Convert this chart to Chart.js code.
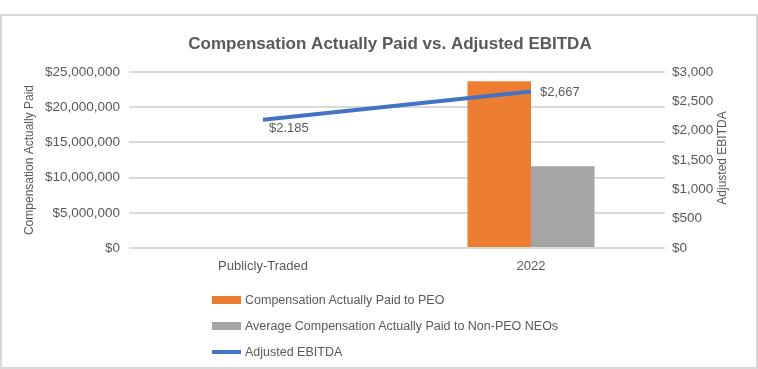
<!DOCTYPE html>
<html>
<head>
<meta charset="utf-8">
<script src="https://cdn.jsdelivr.net/npm/chart.js@4/dist/chart.umd.min.js"></script>
<style>
  html, body { margin: 0; padding: 0; background: #fff; }
  #wrap { position: relative; width: 758px; height: 369px; overflow: hidden; }
  #frame { position: absolute; left: 0; top: 14px; width: 754px; height: 351px; border: 2px solid #d9d9d9; }
  #chart { position: absolute; left: 0; top: 0; }
  #legend { position: absolute; left: 212px; top: 287px; font-family: "Liberation Sans", Arial, sans-serif; font-size: 12.5px; color: #595959; }
  #legend .item { height: 26px; display: flex; align-items: center; }
  #legend .sw { width: 29px; margin-right: 4px; }
</style>
</head>
<body>
<div id="wrap">
  <div id="frame"></div>
  <canvas id="chart" width="758" height="369"></canvas>
  <div id="legend"></div>
</div>
<script>
const categories = ['Publicly-Traded', '2022'];
const peoPaid = [null, 23700000];        // Compensation Actually Paid to PEO
const neoPaid = [null, 11600000];        // Average CAP to Non-PEO NEOs
const adjEbitda = [2185, 2667];          // Adjusted EBITDA
const ebitdaLabels = ['$2.185', '$2,667'];

const grey = '#595959';
const fontFam = '"Liberation Sans", Arial, sans-serif';

// etiquetas de la linea (desplazamiento respecto al punto)
const labelOffsets = [[6, 9], [9, 1]];

const lineLabels = {
  id: 'lineLabels',
  afterDatasetsDraw(chart) {
    const meta = chart.getDatasetMeta(2);
    const ctx = chart.ctx;
    ctx.save();
    ctx.font = '13px ' + fontFam;
    ctx.fillStyle = grey;
    ctx.textAlign = 'left';
    ctx.textBaseline = 'middle';
    meta.data.forEach((pt, i) => {
      ctx.fillText(ebitdaLabels[i], pt.x + labelOffsets[i][0], pt.y + labelOffsets[i][1]);
    });
    ctx.restore();
  }
};

// titulo del eje derecho, leido de abajo hacia arriba
const rightTitle = {
  id: 'rightTitle',
  afterDraw(chart) {
    const ctx = chart.ctx;
    const area = chart.chartArea;
    ctx.save();
    ctx.translate(723, (area.top + area.bottom) / 2 - 2);
    ctx.rotate(-Math.PI / 2);
    ctx.font = '12px ' + fontFam;
    ctx.fillStyle = grey;
    ctx.textAlign = 'center';
    ctx.textBaseline = 'middle';
    ctx.fillText('Adjusted EBITDA', 0, 0);
    ctx.restore();
  }
};

const money = v => '$' + Number(v).toLocaleString('en-US');

const chart = new Chart(document.getElementById('chart'), {
  data: {
    labels: categories,
    datasets: [
      {
        type: 'bar',
        label: 'Compensation Actually Paid to PEO',
        data: peoPaid,
        backgroundColor: '#ED7D31',
        yAxisID: 'y',
        order: 1,
        barPercentage: 1,
        categoryPercentage: 0.474
      },
      {
        type: 'bar',
        label: 'Average Compensation Actually Paid to Non-PEO NEOs',
        data: neoPaid,
        backgroundColor: '#A5A5A5',
        yAxisID: 'y',
        order: 1,
        barPercentage: 1,
        categoryPercentage: 0.474
      },
      {
        type: 'line',
        label: 'Adjusted EBITDA',
        data: adjEbitda,
        borderColor: '#4472C4',
        backgroundColor: '#4472C4',
        borderWidth: 4,
        pointRadius: 0,
        yAxisID: 'y1',
        order: 0
      }
    ]
  },
  options: {
    responsive: false,
    animation: false,
    layout: { padding: { left: 22, right: 0, top: 0, bottom: 91 } },
    plugins: {
      legend: { display: false },
      tooltip: { enabled: false },
      title: {
        display: true,
        text: 'Compensation Actually Paid vs. Adjusted EBITDA',
        color: grey,
        font: { family: fontFam, size: 17, weight: 'bold', lineHeight: 1.2 },
        padding: { top: 34, bottom: 17.6 }
      }
    },
    scales: {
      x: {
        grid: { display: false, drawTicks: false },
        border: { display: false },
        ticks: { color: grey, font: { family: fontFam, size: 13 }, padding: 11 },
        afterFit(s) { s.height = 30; }
      },
      y: {
        position: 'left',
        min: 0,
        max: 25000000,
        ticks: { stepSize: 5000000, color: grey, font: { family: fontFam, size: 13.5 }, padding: 9, callback: money },
        grid: { color: '#d9d9d9', lineWidth: 2, drawTicks: false },
        border: { display: false },
        title: {
          display: true,
          text: 'Compensation Actually Paid',
          color: grey,
          font: { family: fontFam, size: 12, lineHeight: 1.2 },
          padding: { top: 0, bottom: 0 }
        },
        afterFit(s) { s.width = 107; }
      },
      y1: {
        position: 'right',
        min: 0,
        max: 3000,
        ticks: { stepSize: 500, color: grey, font: { family: fontFam, size: 13.5 }, padding: 7, callback: money },
        grid: { display: false, drawTicks: false },
        border: { display: false },
        afterFit(s) { s.width = 93; }
      }
    }
  },
  plugins: [lineLabels, rightTitle]
});

// leyenda vertical en HTML
const legendEl = document.getElementById('legend');
chart.data.datasets.forEach(ds => {
  const item = document.createElement('div');
  item.className = 'item';
  const sw = document.createElement('span');
  sw.className = 'sw';
  sw.style.height = ds.type === 'line' ? '4px' : '8px';
  sw.style.background = ds.type === 'line' ? ds.borderColor : ds.backgroundColor;
  const txt = document.createElement('span');
  txt.textContent = ds.label;
  item.appendChild(sw);
  item.appendChild(txt);
  legendEl.appendChild(item);
});
</script>
</body>
</html>
